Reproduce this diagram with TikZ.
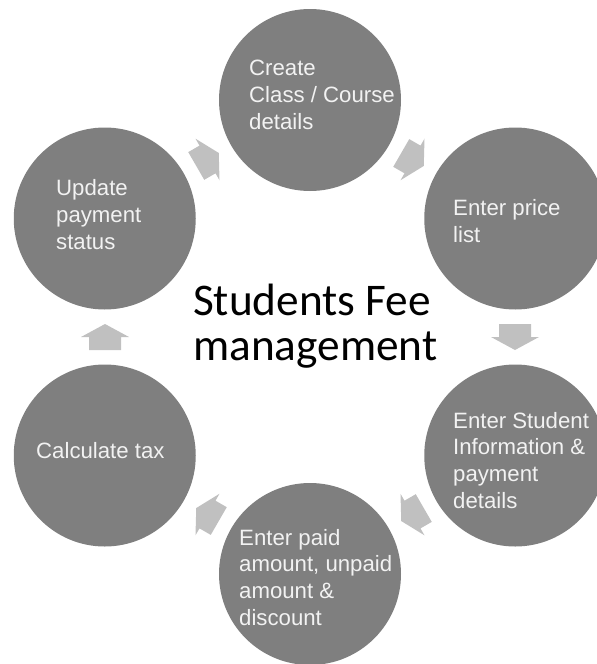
\documentclass[tikz,border=0pt]{standalone}
\usepackage{fontspec}
\setmainfont{Liberation Sans}
\newfontfamily\calib{Carlito}
\definecolor{circgrey}{HTML}{7F7F7F}
\definecolor{arrowc}{HTML}{C0C0C0}
\definecolor{txtc}{HTML}{F2F2F2}
\begin{document}
\begin{tikzpicture}[x=1pt,y=1pt,
  stage/.style={circle, fill=circgrey, minimum size=182pt, inner sep=0pt},
  steptext/.style={anchor=base west, inner sep=0pt, align=left, text=txtc,
    font=\fontsize{22.2}{26.6}\selectfont},
  flowarrow/.style={fill=arrowc}]
\useasboundingbox (0,0) rectangle (597,-664);
\clip (0,0) rectangle (597,-664);
\coordinate (C) at (310,-337);
% circles
\node[stage] (s1) at ([shift={(90:237)}]C) {};
\node[stage] (s2) at ([shift={(30:237)}]C) {};
\node[stage] (s3) at ([shift={(-30:237)}]C) {};
\node[stage] (s4) at ([shift={(-90:237)}]C) {};
\node[stage] (s5) at ([shift={(-150:237)}]C) {};
\node[stage] (s6) at ([shift={(150:237)}]C) {};
% arrows
\foreach \a in {60,0,-60,-120,180,120}{
  \fill[flowarrow, shift={(310,-337)}, shift={(\a:205)}, rotate=\a-90]
    (-13,-16) -- (0,-16) -- (0,-24) -- (13,0) -- (0,24) -- (0,16) -- (-13,16) -- cycle;
}
% texts (anchor = baseline of the last line)
\node[steptext] (t1) at (249,-129) {Create\\Class / Course\\details};
\node[steptext] (t2) at (453,-242) {Enter price\\list};
\node[steptext] (t3) at (453,-508) {Enter Student\\Information \&\\payment\\details};
\node[steptext] (t4) at (239,-625) {Enter paid\\amount, unpaid\\amount \&\\discount};
\node[steptext] (t5) at (36,-458) {Calculate tax};
\node[steptext] (t6) at (56,-249) {Update\\payment\\status};
\node[anchor=base west, inner sep=0pt, align=left, text=black,
  font=\calib\fontsize{45.3}{45}\selectfont] (title) at (193,-360) {Students Fee\\management};
\end{tikzpicture}
\end{document}
